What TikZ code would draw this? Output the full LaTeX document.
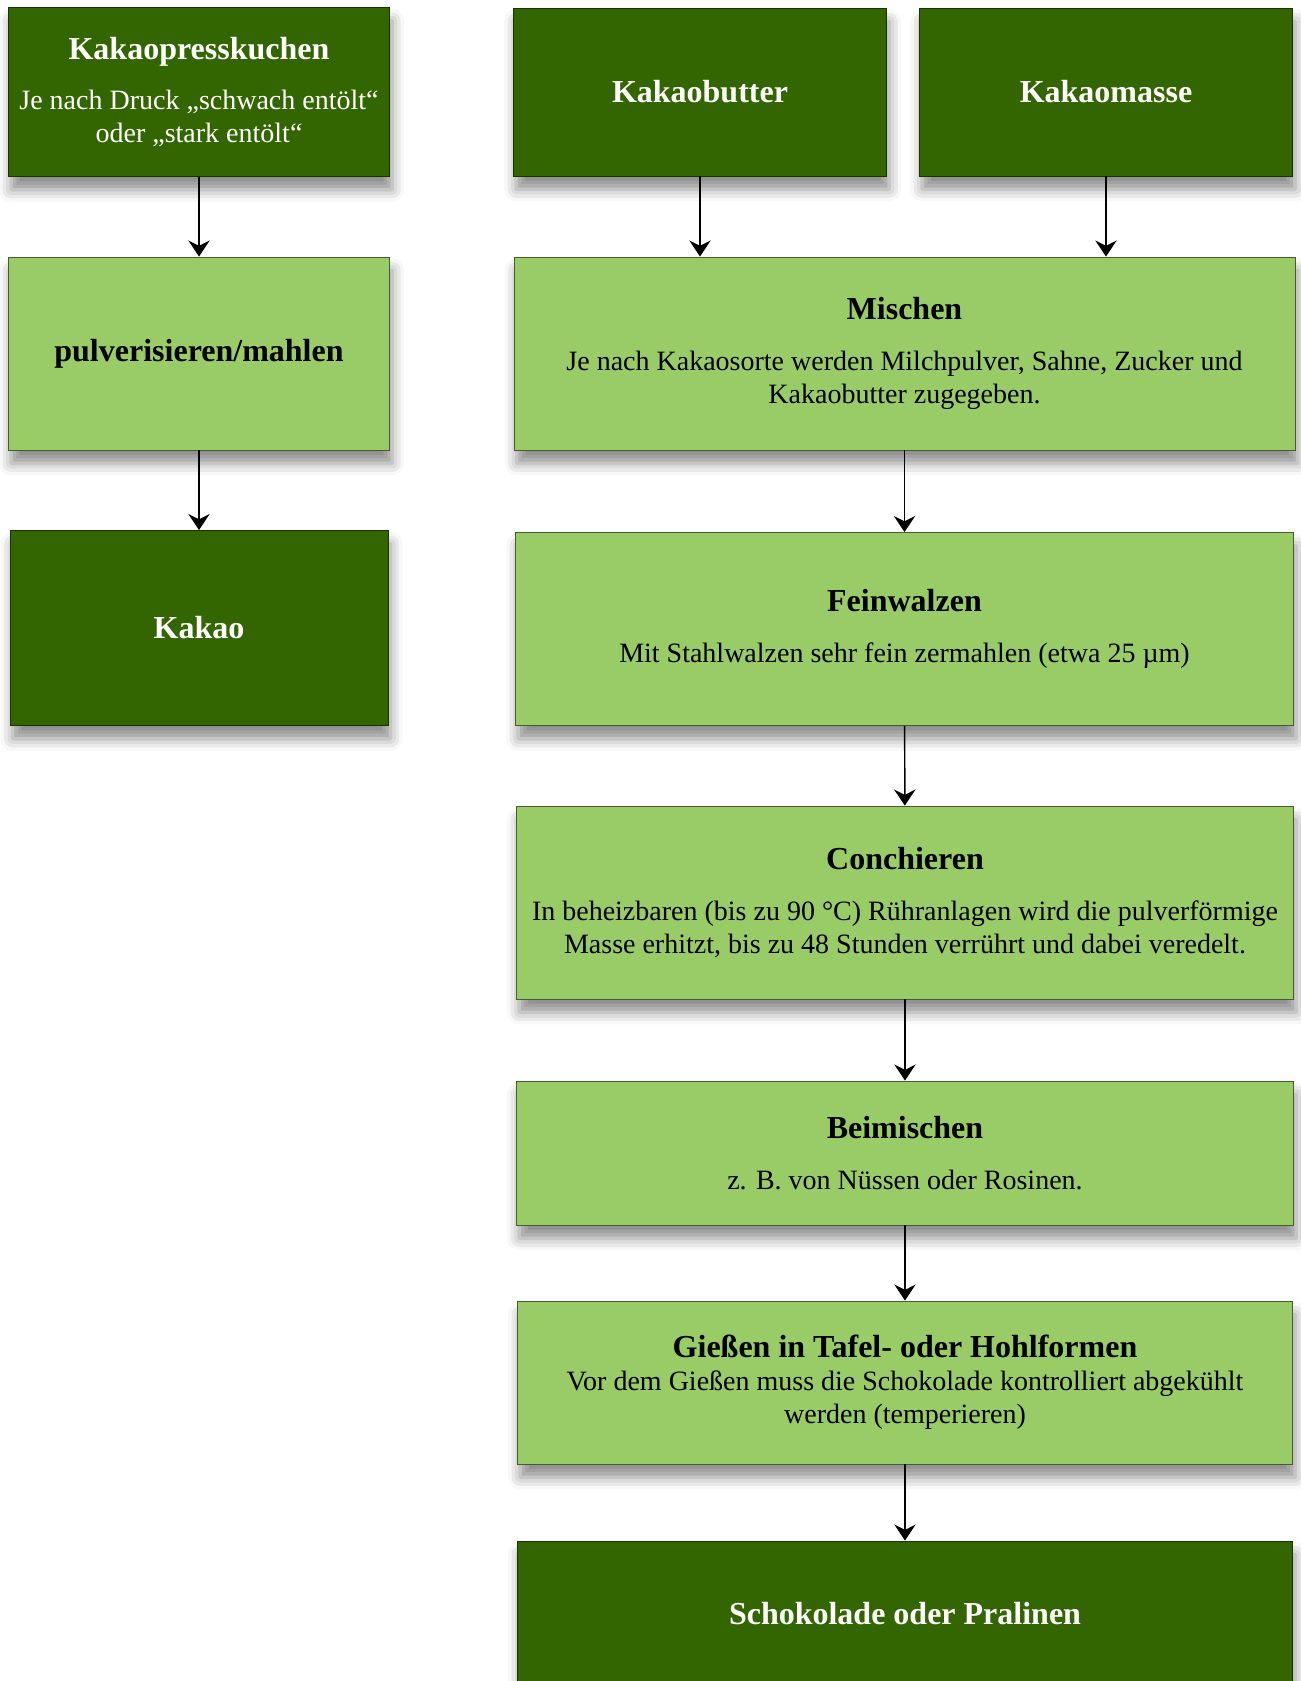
\documentclass[tikz,border=0pt]{standalone}
\usepackage{fontspec}
\setmainfont{Liberation Serif}
\usetikzlibrary{arrows.meta,shadows.blur}
\definecolor{darkgreen}{HTML}{336600}
\definecolor{lightgreen}{HTML}{99CC66}
\newcommand{\boxtitle}[1]{{\bfseries\fontsize{24}{29}\selectfont #1}}

\begin{document}
\begin{tikzpicture}[x=0.75pt, y=-0.75pt,
		box/.style={rectangle, draw, align=center, inner sep=0pt, line width=0.7pt,
			blur shadow={shadow xshift=2pt, shadow yshift=-10pt, shadow blur radius=9pt, shadow opacity=45},
			font=\fontsize{21}{24.75}\selectfont},
		boxsize/.style 2 args={minimum width=#1*0.75pt, minimum height=#2*0.75pt},
		darkbox/.style={box, fill=darkgreen, draw=darkgreen!50!black, text=white},
		lightbox/.style={box, fill=lightgreen, draw=lightgreen!45!black},
		arr/.style={-{Stealth[length=12pt,width=16pt,inset=4pt]}, line width=1.1pt}
		]
	\path[use as bounding box, clip] (0,0) rectangle (1301,1681);

	% left column
	\node [darkbox, boxsize={381}{169}] (presskuchen) at (199,92)
		{\boxtitle{Kakaopresskuchen}\\[13pt] Je nach Druck „schwach entölt“\\ oder „stark entölt“};
	\node [lightbox, boxsize={381}{193}] (pulver) at (199,353.5)
		{\boxtitle{pulverisieren/mahlen}};
	\node [darkbox, boxsize={378}{195}] (kakao) at (199,628)
		{\boxtitle{Kakao}};

	% right column
	\node [darkbox, boxsize={373}{168}] (butter) at (700,92) {\boxtitle{Kakaobutter}};
	\node [darkbox, boxsize={373}{168}] (masse) at (1106,92) {\boxtitle{Kakaomasse}};
	\node [lightbox, boxsize={781}{193}] (mischen) at (904.5,353.5)
		{\boxtitle{Mischen}\\[13pt] Je nach Kakaosorte werden Milchpulver, Sahne, Zucker und\\ Kakaobutter zugegeben.};
	\node [lightbox, boxsize={778}{193}] (feinwalzen) at (904.5,629)
		{\boxtitle{Feinwalzen}\\[13pt] Mit Stahlwalzen sehr fein zermahlen (etwa 25 µm)};
	\node [lightbox, boxsize={777}{193}] (conchieren) at (905,902.5)
		{\boxtitle{Conchieren}\\[13pt] In beheizbaren (bis zu 90 °C) Rühranlagen wird die pulverförmige\\ Masse erhitzt, bis zu 48 Stunden verrührt und dabei veredelt.};
	\node [lightbox, boxsize={777}{144}] (beimischen) at (905,1153)
		{\boxtitle{Beimischen}\\[13pt] z. B. von Nüssen oder Rosinen.};
	\node [lightbox, boxsize={775}{163}] (giessen) at (905,1382.5)
		{\boxtitle{Gießen in Tafel- oder Hohlformen}\\ Vor dem Gießen muss die Schokolade kontrolliert abgekühlt\\ werden (temperieren)};
	\node [darkbox, boxsize={775}{146}] (schokolade) at (905,1614)
		{\boxtitle{Schokolade oder Pralinen}};

	% connectors
	\draw[arr] (presskuchen) -- (pulver);
	\draw[arr] (pulver) -- (kakao);
	\draw[arr] (butter) -- (butter |- mischen.north);
	\draw[arr] (masse) -- (masse |- mischen.north);
	\draw[arr] (mischen) -- (feinwalzen);
	\draw[arr] (feinwalzen) -- (conchieren);
	\draw[arr] (conchieren) -- (beimischen);
	\draw[arr] (beimischen) -- (giessen);
	\draw[arr] (giessen) -- (schokolade);
\end{tikzpicture}
\end{document}
